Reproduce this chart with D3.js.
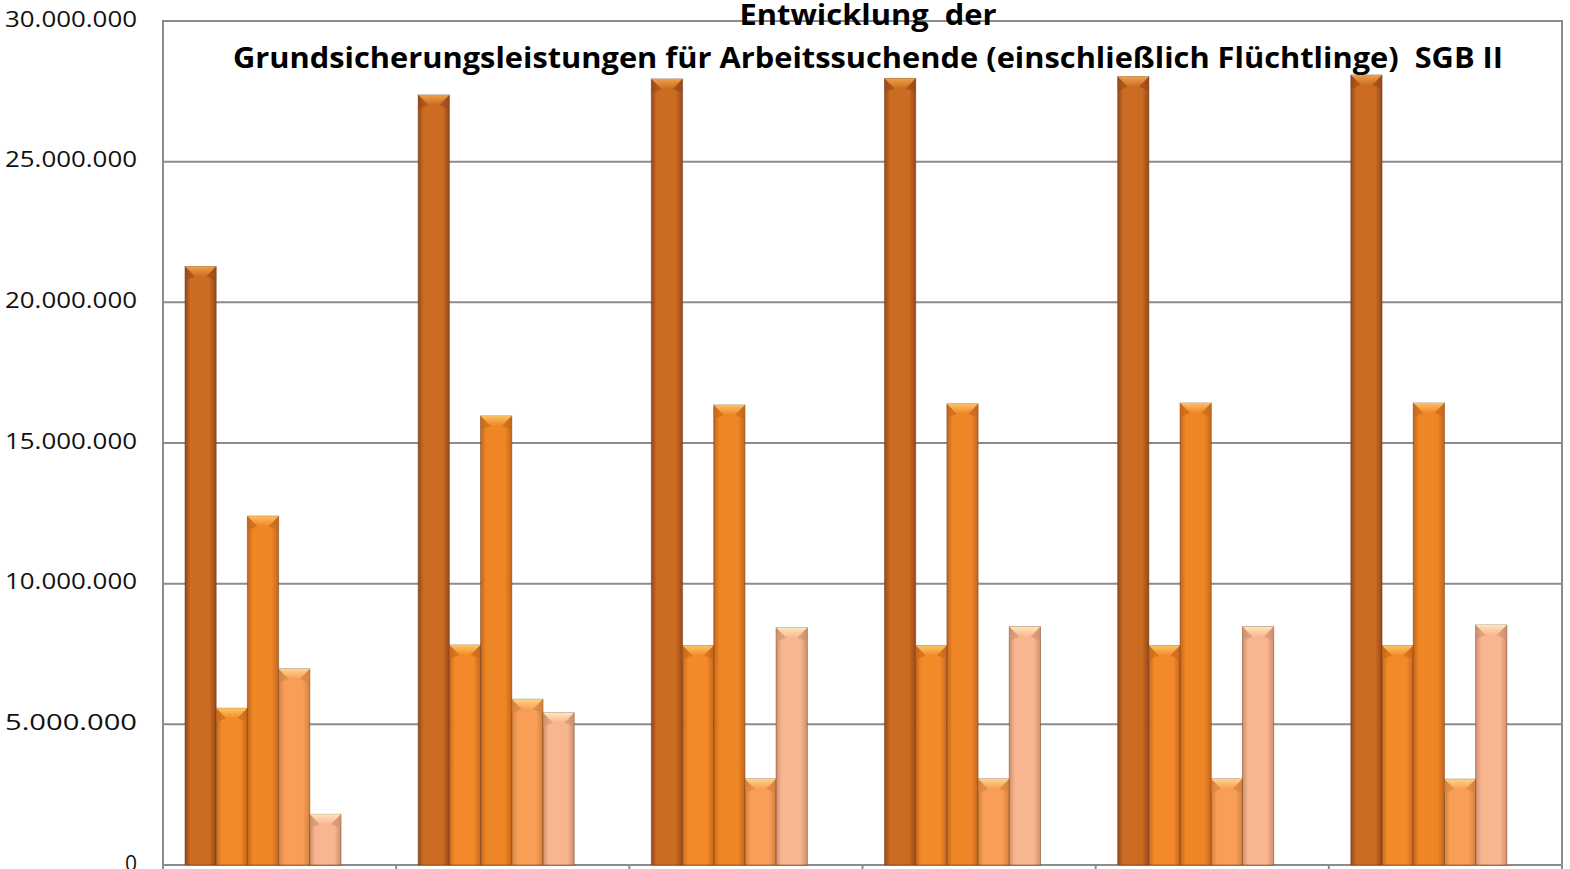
<!DOCTYPE html>
<html>
<head>
<meta charset="utf-8">
<script src="https://cdn.jsdelivr.net/npm/d3@7"></script>
<style>
  html, body { margin: 0; padding: 0; background: #fff; }
  svg { display: block; }
  text { white-space: pre; }
</style>
</head>
<body>
<svg id="chart" width="1570" height="869"></svg>
<script>
// data (category labels are cut off in the original)
const groups = ["G1", "G2", "G3", "G4", "G5", "G6"];
const series = ["S1", "S2", "S3", "S4", "S5"];
const s1 = [21270000, 27370000, 27940000, 27960000, 28020000, 28080000];
const s2 = [5570000, 7820000, 7800000, 7800000, 7800000, 7800000];
const s3 = [12400000, 15960000, 16350000, 16390000, 16420000, 16420000];
const s4 = [6970000, 5890000, 3060000, 3060000, 3060000, 3050000];
const s5 = [1800000, 5410000, 8430000, 8470000, 8470000, 8530000];
const yTicks = [0, 5000000, 10000000, 15000000, 20000000, 25000000, 30000000];
const titleLines = ["Entwicklung  der", "Grundsicherungsleistungen für Arbeitssuchende (einschließlich Flüchtlinge)  SGB II"];

const values = [s1, s2, s3, s4, s5];
const colors = [
  {edge: "#96491a", mid: "#cc6c22", top: "#eea04a"},
  {edge: "#c8681c", mid: "#f28a2a", top: "#fcc860"},
  {edge: "#c4661c", mid: "#ee8626", top: "#fcc060"},
  {edge: "#d4823e", mid: "#f89e56", top: "#fdd488"},
  {edge: "#cf9070", mid: "#f8b690", top: "#fde6bc"}
];

const svg = d3.select("#chart");
const plotLeft = 163, plotRight = 1562, plotTop = 21, plotBottom = 865;

const x0 = d3.scaleBand().domain(groups).range([plotLeft, plotRight]).padding(0);
const x1 = d3.scaleBand().domain(series).range([22, 178]).padding(0);
const y = d3.scaleLinear().domain([0, 30000000]).range([plotBottom, plotTop]);

const fmt = v => d3.format(",")(v).replace(/,/g, ".");

// gradients
const defs = svg.append("defs");
colors.forEach((c, i) => {
  const g = defs.append("linearGradient").attr("id", "bar" + i)
    .attr("x1", 0).attr("x2", 1).attr("y1", 0).attr("y2", 0);
  g.append("stop").attr("offset", "0%").attr("stop-color", c.edge);
  g.append("stop").attr("offset", "18%").attr("stop-color", c.mid);
  g.append("stop").attr("offset", "78%").attr("stop-color", c.mid);
  g.append("stop").attr("offset", "100%").attr("stop-color", c.edge);
  const t = defs.append("linearGradient").attr("id", "top" + i)
    .attr("x1", 0).attr("x2", 0).attr("y1", 0).attr("y2", 1);
  t.append("stop").attr("offset", "0%").attr("stop-color", c.top);
  t.append("stop").attr("offset", "100%").attr("stop-color", c.mid);
});

// gridlines
svg.append("g").selectAll("line")
  .data(yTicks.slice(1, -1))
  .enter().append("line")
  .attr("x1", plotLeft).attr("x2", plotRight)
  .attr("y1", d => y(d)).attr("y2", d => y(d))
  .attr("stroke", "#8c8c8c").attr("stroke-width", 2);

// frame
svg.append("rect")
  .attr("x", plotLeft).attr("y", plotTop)
  .attr("width", plotRight - plotLeft).attr("height", plotBottom - plotTop)
  .attr("fill", "none").attr("stroke", "#8c8c8c").attr("stroke-width", 2);

// category boundary ticks
svg.append("g").selectAll("line")
  .data(groups.map(g => x0(g)).concat([plotRight]))
  .enter().append("line")
  .attr("x1", d => d).attr("x2", d => d)
  .attr("y1", plotBottom).attr("y2", plotBottom + 6)
  .attr("stroke", "#8c8c8c").attr("stroke-width", 2);

// y labels
svg.append("g").selectAll("text")
  .data(yTicks)
  .enter().append("text")
  .attr("x", 137).attr("y", d => y(d))
  .attr("text-anchor", "end")
  .attr("dominant-baseline", "middle")
  .attr("font-family", "Open Sans, sans-serif")
  .attr("font-size", 21)
  .attr("fill", "#111")
  .attr("textLength", d => d === 0 ? null : 132)
  .attr("lengthAdjust", "spacingAndGlyphs")
  .text(d => fmt(d));

// bars
const cells = [];
groups.forEach((g, gi) => {
  series.forEach((s, si) => {
    cells.push({g: g, s: s, si: si, v: values[si][gi]});
  });
});

const bars = svg.append("g").selectAll("g")
  .data(cells)
  .enter().append("g")
  .attr("transform", d => "translate(" + (x0(d.g) + x1(d.s)) + ",0)");

const w = x1.bandwidth();
const bev = 10, ins = 10;

bars.append("rect")
  .attr("x", 0).attr("y", d => y(d.v))
  .attr("width", w).attr("height", d => plotBottom - y(d.v))
  .attr("fill", d => "url(#bar" + d.si + ")")
  .attr("stroke", "#6e3810").attr("stroke-opacity", 0.5).attr("stroke-width", 1);

bars.append("path")
  .attr("d", d => {
    const t = y(d.v);
    return "M0," + t + "L" + w + "," + t + "L" + (w - ins) + "," + (t + bev) + "L" + ins + "," + (t + bev) + "Z";
  })
  .attr("fill", d => "url(#top" + d.si + ")");

bars.append("path")
  .attr("d", d => {
    const t = y(d.v);
    return "M0," + t + "L" + ins + "," + (t + bev) + "L0," + (t + bev + 4) + "Z" +
      "M" + w + "," + t + "L" + (w - ins) + "," + (t + bev) + "L" + w + "," + (t + bev + 4) + "Z";
  })
  .attr("fill", d => colors[d.si].edge).attr("opacity", 0.6);

// title
const title = svg.append("g")
  .attr("font-family", "Open Sans, sans-serif")
  .attr("font-weight", "bold")
  .attr("font-size", 29)
  .attr("fill", "#000")
  .attr("text-anchor", "middle");
title.append("text").attr("x", 868).attr("y", 25)
  .attr("textLength", 257).attr("lengthAdjust", "spacingAndGlyphs")
  .text(titleLines[0]);
title.append("text").attr("x", 868).attr("y", 68)
  .attr("textLength", 1270).attr("lengthAdjust", "spacingAndGlyphs")
  .text(titleLines[1]);
</script>
</body>
</html>
